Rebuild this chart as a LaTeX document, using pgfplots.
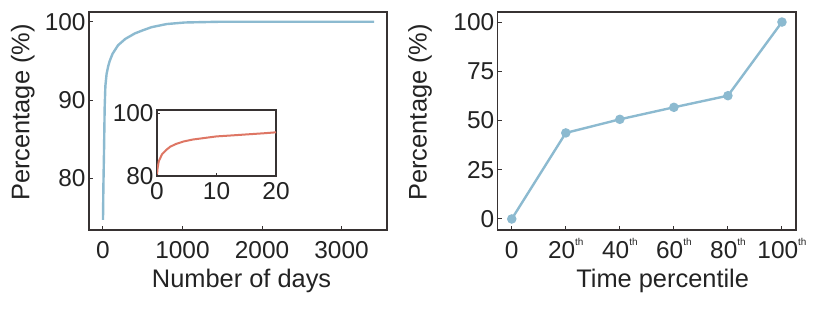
\documentclass[border=0pt]{standalone}
\usepackage{pgfplots}
\pgfplotsset{compat=1.18}
\usepackage{fontspec}
\setmainfont{Liberation Sans}
\definecolor{lblue}{RGB}{140,186,208}
\definecolor{lred}{RGB}{222,118,100}
\definecolor{axgray}{RGB}{55,50,50}
\definecolor{txt}{RGB}{35,35,35}
\newcommand\sth{\raisebox{0.5em}{\fontsize{10}{10}\selectfont th}}
\begin{document}
\begin{tikzpicture}[x=1bp,y=1bp]
\path[use as bounding box] (0,0) rectangle (824,326);
\pgfplotsset{
  myax/.style={
    scale only axis, anchor=south west,
    tick align=inside, xtick pos=bottom, ytick pos=left,
    major tick length=4bp,
    axis line style={axgray, line width=1.1bp},
    tick style={axgray, line width=1bp},
    ticklabel style={font=\fontsize{24.5}{28}\selectfont, text=txt},
    label style={font=\fontsize{25.5}{29}\selectfont, text=txt},
    /pgf/number format/assume math mode=true,
    /pgf/number format/set thousands separator={},
  }
}
% Panel (a)
\begin{axis}[myax,
  at={(89bp,96bp)}, width=298bp, height=218bp,
  xmin=-176, xmax=3572, ymin=73.4, ymax=101.24,
  xtick={0,1000,2000,3000}, ytick={80,90,100},
  xticklabel style={anchor=base, yshift=-28bp},
  xlabel={Number of days},
  xlabel style={at={(axis description cs:0.512,-0.262)}, anchor=base},
  ylabel={Percentage (\%)},
  ylabel style={at={(axis description cs:-0.222,0.539)}, anchor=center},
]
\addplot[lblue, line width=2.4bp] coordinates {
(0,74.7)(5,79)(13,83.5)(21,89)(30,91.8)(45,93.3)(65,94.3)(85,95)(120,95.9)
(190,97)(280,97.8)(400,98.5)(500,98.9)(610,99.3)(800,99.7)(1030,99.9)
(1500,100)(2500,100)(3410,100)};
\node[font=\fontsize{25.5}{29}\selectfont, text=txt, anchor=base] at (axis description cs:0.49,-0.39) {(a)};
\end{axis}
% Inset
\begin{axis}[myax,
  at={(157bp,150bp)}, width=119bp, height=66bp,
  xmin=0, xmax=20, ymin=80, ymax=101,
  xtick={0,10,20}, ytick={80,100},
  axis background/.style={fill=white},
  xticklabel style={anchor=base, yshift=-23bp},
  major tick length=3bp,
]
\addplot[lred, line width=2bp] coordinates {
(0,80.5)(0.1,82.5)(0.3,84.7)(0.84,86.9)(1.5,88.2)(2.2,89.3)(3.2,90.2)(4.5,91)
(6,91.6)(8,92.1)(10,92.6)(12.5,92.9)(15.6,93.3)(18,93.6)(20,93.9)};
\end{axis}
% Panel (b)
\begin{axis}[myax,
  at={(497.7bp,96bp)}, width=298.3bp, height=218bp,
  xmin=-5.2, xmax=105.2, ymin=-5.6, ymax=105.1,
  xtick={0,20,40,60,80,100},
  xticklabels={0,20\sth,40\sth,60\sth,80\sth,100\sth},
  xticklabel style={anchor=base, yshift=-28bp},
  ytick={0,25,50,75,100},
  xlabel={Time percentile},
  xlabel style={at={(axis description cs:0.553,-0.262)}, anchor=base},
  ylabel={Percentage (\%)},
  ylabel style={at={(axis description cs:-0.26,0.54)}, anchor=center},
]
\addplot[lblue, line width=2.4bp, mark=*, mark size=3.5bp, mark options={fill=lblue, draw=lblue}] coordinates {
(0,0)(20,43.7)(40,50.6)(60,56.7)(80,62.6)(100,100)};
\node[font=\fontsize{25.5}{29}\selectfont, text=txt, anchor=base] at (axis description cs:0.55,-0.38) {(b)};
\end{axis}
\end{tikzpicture}
\end{document}
